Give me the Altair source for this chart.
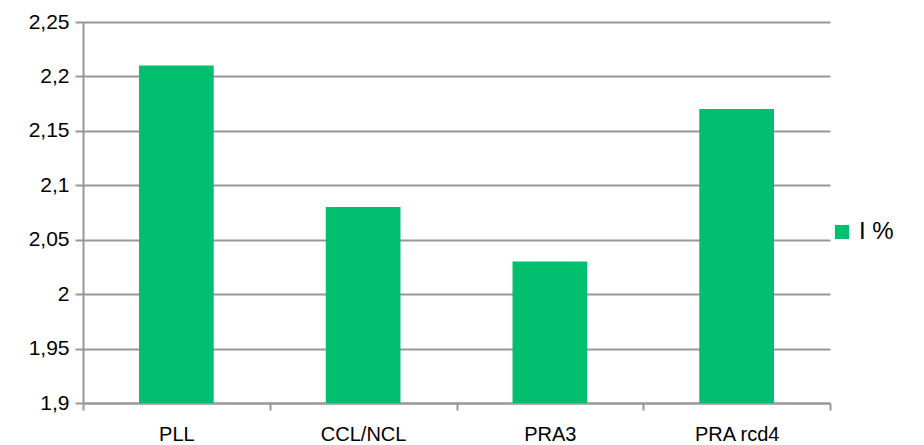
import altair as alt
import pandas as pd

categories = ["PLL", "CCL/NCL", "PRA3", "PRA rcd4"]
values = [2.21, 2.08, 2.03, 2.17]
series_name = "I %"
y_ticks = [1.9, 1.95, 2.0, 2.05, 2.1, 2.15, 2.2, 2.25]

df = pd.DataFrame({"cat": categories, "val": values, "base": [1.9] * 4, "series": [series_name] * 4})

GRAY = "#979797"
FONT = "Liberation Sans"

chart = alt.Chart(df).mark_bar(color="#00BF6F", width=alt.RelativeBandSize(0.4)).encode(
    x=alt.X("cat:N", sort=categories, title=None,
            scale=alt.Scale(paddingInner=0, paddingOuter=0),
            axis=alt.Axis(labelAngle=0, tickBand="extent", labelFontSize=20, labelFont=FONT,
                          labelColor="#000000", labelPadding=14, domainColor=GRAY, domainWidth=2,
                          tickColor=GRAY, tickWidth=2, tickSize=7, grid=False)),
    y=alt.Y("val:Q", title=None,
            scale=alt.Scale(domain=[1.9, 2.25], zero=False, nice=False),
            axis=alt.Axis(values=y_ticks, labelExpr="replace(toString(round(datum.value*100)/100), '.', ',')",
                          labelFontSize=21, labelFont=FONT, labelColor="#000000", labelPadding=6,
                          domainColor=GRAY, domainWidth=2, tickColor=GRAY, tickWidth=2, tickSize=8,
                          gridColor=GRAY, gridWidth=2)),
    y2="base:Q",
    fill=alt.Fill("series:N", scale=alt.Scale(range=["#00BF6F"]),
                  legend=alt.Legend(title=None, orient="none", legendX=747, legendY=198,
                                    symbolType="square", symbolSize=200, labelFontSize=24,
                                    labelFont=FONT, labelColor="#000000", symbolStrokeWidth=0,
                                    labelOffset=5)),
).properties(
    width=747, height=381,
    autosize=alt.AutoSizeParams(type="none"),
    padding={"left": 75, "top": 14, "right": 86, "bottom": 40},
).configure_view(stroke=None)

chart.save("out.html", embed_options={"renderer": "svg", "actions": False})
